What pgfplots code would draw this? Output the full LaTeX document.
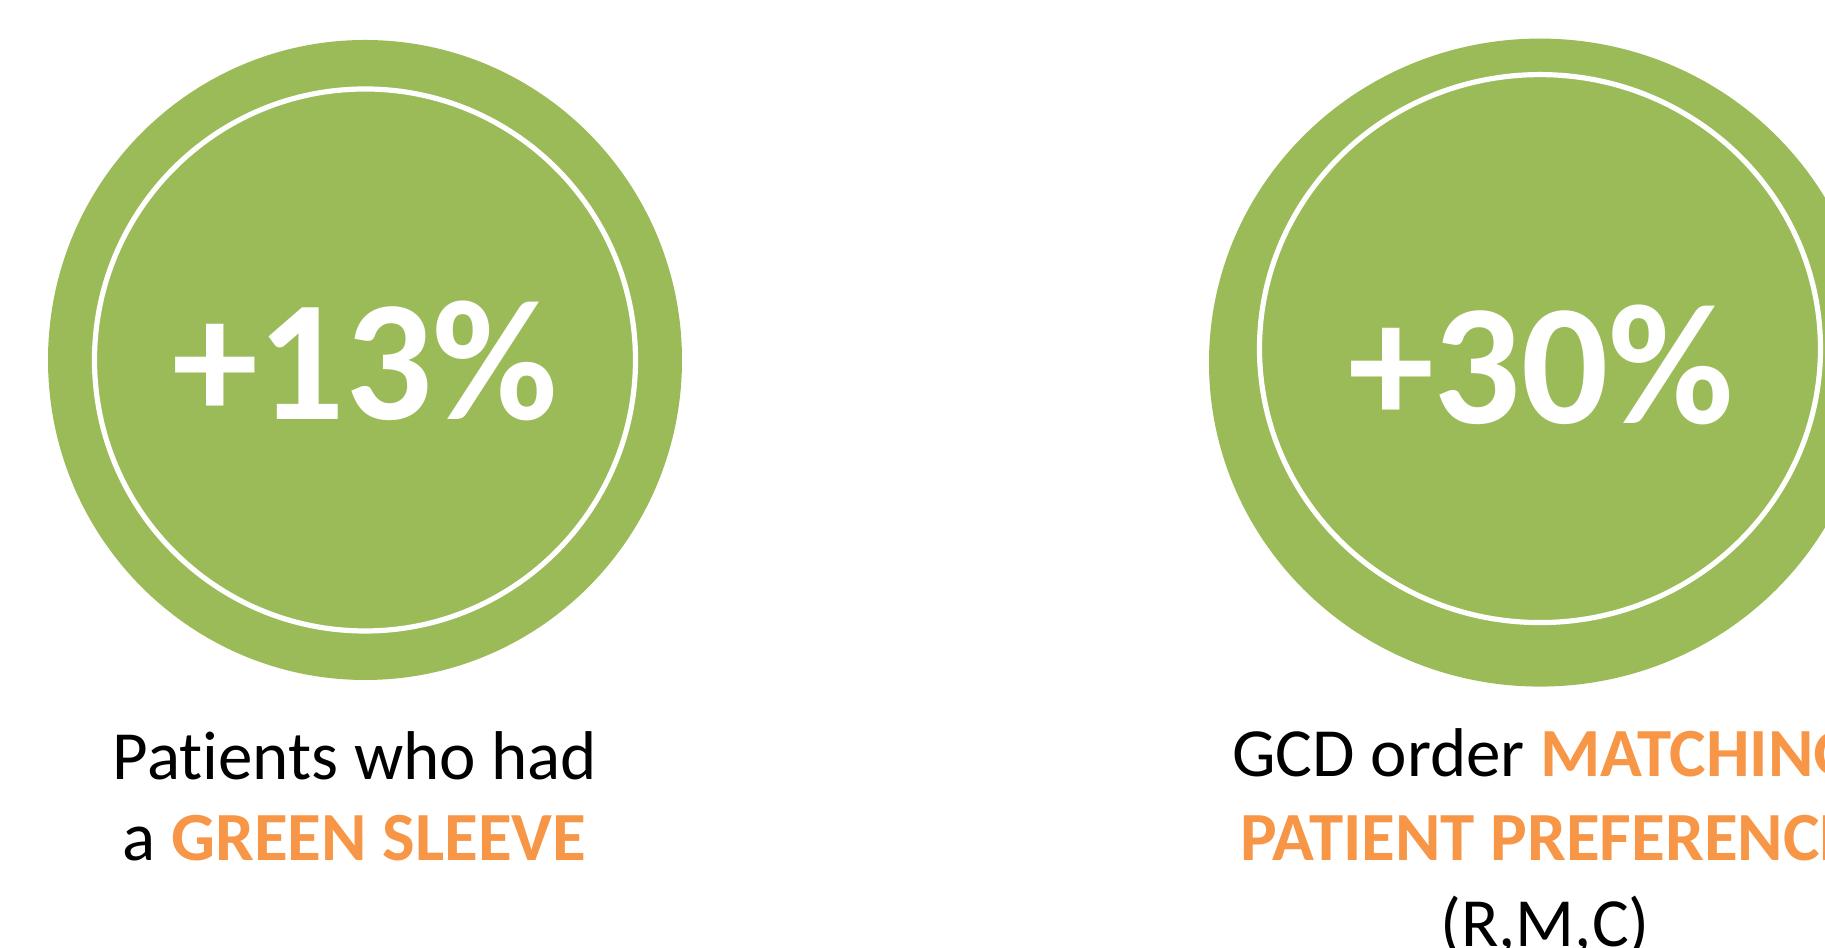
\documentclass[border=0pt]{standalone}
\usepackage{pgfplots}
\pgfplotsset{compat=1.18}
\usepackage{fontspec}
\setmainfont[Ligatures=CommonOff]{Carlito}
\definecolor{cgreen}{HTML}{9BBB59}
\definecolor{corange}{HTML}{F79646}
\begin{document}
\begin{tikzpicture}
\begin{axis}[name=ax, at={(0,0)}, anchor=south west, scale only axis,
  width=456.25pt, height=237pt, xmin=0, xmax=1825, ymin=0, ymax=948,
  y dir=reverse, hide axis, clip=false]
% left badge
\fill[cgreen] (axis cs:365,360) ellipse [x radius=317, y radius=320];
\draw[white, line width=1.3pt] (axis cs:365,360) ellipse [x radius=270.5, y radius=271];
\node[anchor=base, text=white, inner sep=0pt] at (axis cs:365,420)
  {\fontsize{43pt}{47pt}\selectfont\bfseries +13\%};
% right badge
\fill[cgreen] (axis cs:1540,362.6) ellipse [x radius=331, y radius=324];
\draw[white, line width=1.3pt] (axis cs:1540,348.6) ellipse [x radius=280.5, y radius=274];
\node[anchor=base, text=white, inner sep=0pt] at (axis cs:1541,424)
  {\fontsize{43pt}{47pt}\selectfont\bfseries +30\%};
% captions
\node[anchor=base, inner sep=0pt] at (axis cs:355,780)
  {\fontsize{17.25pt}{20pt}\selectfont Patients who had};
\node[anchor=base, inner sep=0pt] at (axis cs:354.5,861)
  {\fontsize{17.25pt}{20pt}\selectfont a \textcolor{corange}{\bfseries GREEN SLEEVE}};
\node[anchor=base, inner sep=0pt] at (axis cs:1545,777)
  {\fontsize{17.25pt}{20pt}\selectfont GCD order \textcolor{corange}{\bfseries MATCHING}};
\node[anchor=base, inner sep=0pt] at (axis cs:1547,861)
  {\fontsize{17.25pt}{20pt}\selectfont\textcolor{corange}{\bfseries PATIENT PREFERENCE}};
\node[anchor=base, inner sep=0pt] at (axis cs:1545,947)
  {\fontsize{17.25pt}{20pt}\selectfont (R,M,C)};
\end{axis}
\pgfresetboundingbox
\path[use as bounding box] (ax.south west) rectangle (ax.north east);
\end{tikzpicture}
\end{document}
